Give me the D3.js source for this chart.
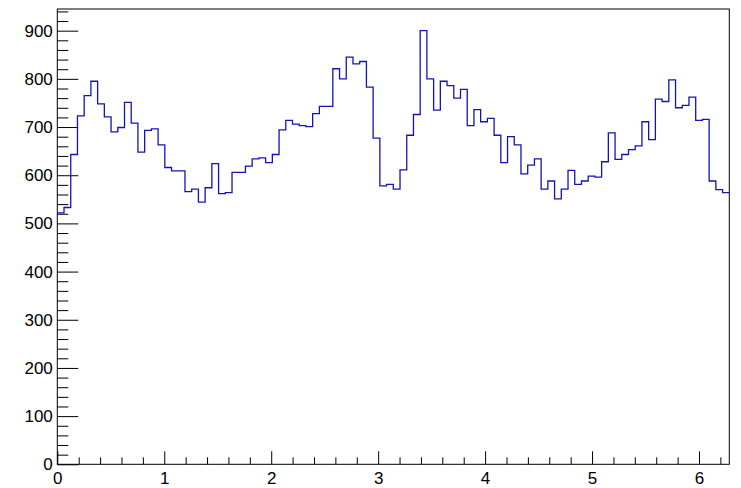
<!DOCTYPE html>
<html>
<head>
<meta charset="utf-8">
<script src="https://cdn.jsdelivr.net/npm/d3@7"></script>
<style>
  body { margin: 0; background: #fff; }
  svg { display: block; }
  text { font-family: "Liberation Sans", Arial, Helvetica, sans-serif; }
</style>
</head>
<body>
<svg id="chart" width="741" height="488"></svg>
<script>
// Histogram: 100 bins over [0, 2π]
const xMin = 0;
const xMax = 2 * Math.PI;
const binCounts = [
  522, 533, 643, 723, 765, 795, 748, 721, 690, 699,
  751, 708, 648, 693, 696, 663, 616, 609, 609, 566,
  571, 544, 574, 624, 562, 564, 606, 606, 619, 634,
  636, 626, 643, 694, 714, 706, 703, 701, 728, 743,
  743, 821, 800, 845, 831, 836, 783, 677, 578, 581,
  571, 611, 683, 726, 900, 800, 735, 795, 786, 760,
  778, 703, 736, 711, 718, 683, 626, 680, 663, 603,
  621, 634, 571, 588, 551, 571, 610, 581, 588, 598,
  596, 628, 688, 633, 643, 653, 661, 711, 674, 758,
  753, 798, 740, 745, 762, 714, 716, 588, 570, 564
];
const yMaxValue = 945;
const yMajorTicks = [0, 100, 200, 300, 400, 500, 600, 700, 800, 900];
const xMajorTicks = [0, 1, 2, 3, 4, 5, 6];

const frame = { left: 57.3, right: 729.3, top: 9, bottom: 464.3 };
const svg = d3.select("#chart");

const x = d3.scaleLinear().domain([xMin, xMax]).range([frame.left, frame.right]);
const y = d3.scaleLinear().domain([0, yMaxValue]).range([frame.bottom, frame.top]);

const nBins = binCounts.length;
const binW = (xMax - xMin) / nBins;

// step outline points
const pts = [];
binCounts.forEach((v, i) => {
  pts.push([xMin + i * binW, v]);
  pts.push([xMin + (i + 1) * binW, v]);
});

// frame
svg.append("rect")
  .attr("x", frame.left).attr("y", frame.top)
  .attr("width", frame.right - frame.left)
  .attr("height", frame.bottom - frame.top)
  .attr("fill", "none").attr("stroke", "#000").attr("stroke-width", 1);

// histogram
svg.append("path")
  .datum(pts)
  .attr("fill", "none")
  .attr("stroke", "#1414b4")
  .attr("stroke-width", 1.3)
  .attr("d", d3.line().x(d => x(d[0])).y(d => y(d[1])));

// minor ticks
const yMinor = d3.range(0, yMaxValue, 20).filter(v => v % 100 !== 0);
const xMinor = d3.range(0, xMax, 0.2).map(v => Math.round(v * 10) / 10).filter(v => Math.abs(v - Math.round(v)) > 1e-6);

const yMinorAxis = svg.append("g").attr("transform", `translate(${frame.left},0)`)
  .call(d3.axisLeft(y).tickValues(yMinor).tickSize(-11).tickFormat(""));
const xMinorAxis = svg.append("g").attr("transform", `translate(0,${frame.bottom})`)
  .call(d3.axisBottom(x).tickValues(xMinor).tickSize(-7).tickFormat(""));

// major ticks + labels
const yAxis = svg.append("g").attr("transform", `translate(${frame.left},0)`)
  .call(d3.axisLeft(y).tickValues(yMajorTicks).tickSize(-21).tickPadding(4.5).tickFormat(d3.format("d")));
const xAxis = svg.append("g").attr("transform", `translate(0,${frame.bottom})`)
  .call(d3.axisBottom(x).tickValues(xMajorTicks).tickSize(-13).tickPadding(7.5).tickFormat(d3.format("d")));

[yMinorAxis, xMinorAxis, yAxis, xAxis].forEach(g => {
  g.select(".domain").remove();
  g.selectAll("line").attr("stroke", "#000").attr("stroke-width", 1);
  g.selectAll("text").attr("font-size", 17).attr("fill", "#000")
    .attr("font-family", '"Liberation Sans", Arial, Helvetica, sans-serif');
});
</script>
</body>
</html>
